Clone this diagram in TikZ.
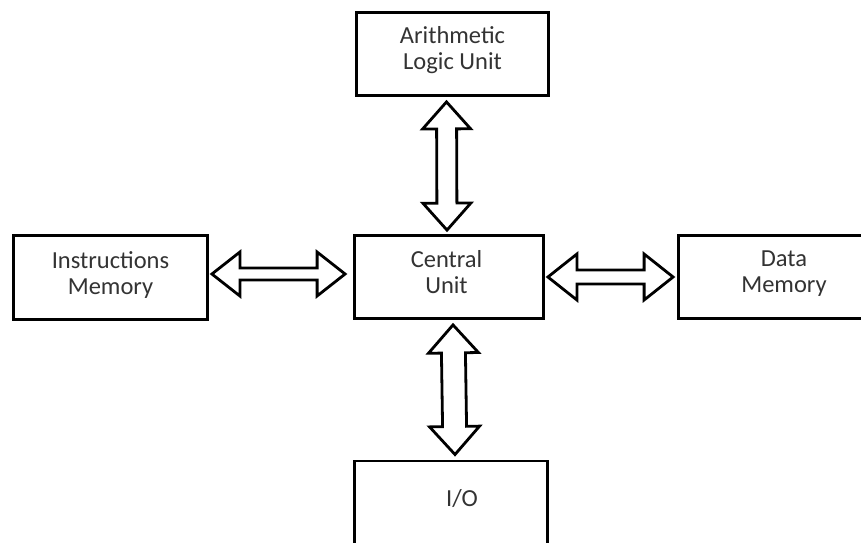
\documentclass[tikz,border=0pt]{standalone}
\usepackage{fontspec}
\setmainfont{Carlito}
\usetikzlibrary{calc}

\tikzset{
  unitbox/.style={draw=black, line width=2.8pt, rectangle, inner sep=0pt, fill=white},
  boxtext/.style={align=center, text=black!80, inner sep=0pt,
    font=\fontsize{24.5}{26}\selectfont},
  bus/.style={draw=black, line width=2.8pt, line join=miter, fill=white}
}

% double-headed hollow block arrow:
% #1 tip, #2 other tip, #3 shaft half width, #4 head half width, #5 head length
\newcommand\busarrow[5]{%
  \coordinate (h1) at ($(#1)!#5!(#2)$);
  \coordinate (h2) at ($(#2)!#5!(#1)$);
  \draw[bus] (#1)
    -- ($(h1)!#4!90:(#2)$) -- ($(h1)!#3!90:(#2)$)
    -- ($(h2)!#3!-90:(#1)$) -- ($(h2)!#4!-90:(#1)$)
    -- (#2)
    -- ($(h2)!#4!90:(#1)$) -- ($(h2)!#3!90:(#1)$)
    -- ($(h1)!#3!-90:(#2)$) -- ($(h1)!#4!-90:(#2)$)
    -- cycle;
}

\begin{document}
\begin{tikzpicture}[x=1pt, y=-1pt]
  \useasboundingbox (0,0) rectangle (861,542);
  \fill[white] (0,0) rectangle (861,542);
  \clip (0,0) rectangle (861,542);

  % functional blocks
  \node[unitbox, minimum width=192pt, minimum height=83pt,
        label={[boxtext, yshift=4pt]center:Arithmetic\\Logic Unit}]
        (alu) at (452.5,54) {};
  \node[unitbox, minimum width=194pt, minimum height=84pt,
        label={[boxtext, yshift=3pt]center:Instructions\\Memory}]
        (instr) at (110.5,277.5) {};
  \node[unitbox, minimum width=189pt, minimum height=83pt,
        label={[boxtext, xshift=-2.5pt, yshift=4.5pt]center:Central\\Unit}]
        (cu) at (449,277) {};
  \node[unitbox, minimum width=211pt, minimum height=83pt,
        label={[boxtext, yshift=3pt]center:Data\\Memory}]
        (data) at (784,277) {};
  \node[unitbox, minimum width=193pt, minimum height=110pt, anchor=north,
        label={[boxtext, xshift=11pt, yshift=17pt]center:I/O}]
        (io) at (451,459.5) {};

  % bus end points
  \coordinate (aluS) at ($(alu.south)+(-6,5)$);
  \coordinate (cuN)  at ($(cu.north)+(-2,-4)$);
  \coordinate (cuS)  at ($(cu.south)+(4,5)$);
  \coordinate (ioN)  at ($(io.north)+(4,-5)$);
  \coordinate (insE) at ($(instr.east)+(3,-3.5)$);
  \coordinate (cuW)  at ($(cu.west)+(-8,-3)$);
  \coordinate (cuE)  at ($(cu.east)+(3,0)$);
  \coordinate (datW) at ($(data.west)+(-4,0)$);

  % buses
  \busarrow{aluS}{cuN}{10pt}{24pt}{27pt}
  \busarrow{cuS}{ioN}{12pt}{25pt}{28pt}
  \busarrow{insE}{cuW}{6pt}{22pt}{28pt}
  \busarrow{cuE}{datW}{7pt}{23pt}{29pt}
\end{tikzpicture}
\end{document}
